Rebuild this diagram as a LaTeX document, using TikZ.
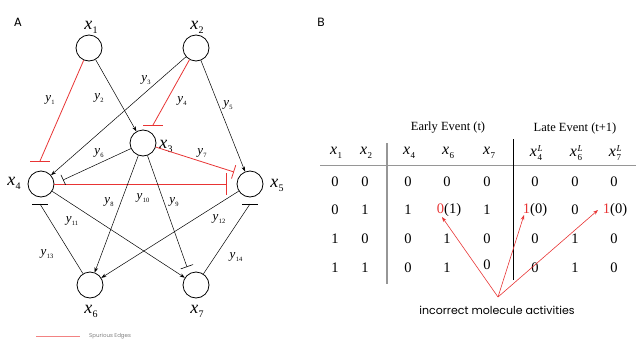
\documentclass[tikz,border=0pt]{standalone}
\usepackage{fontspec}
\setmainfont{Liberation Serif}
\newfontfamily\itx{Liberation Serif Italic}
\newfontfamily\gothic{Poppins}
\usetikzlibrary{arrows.meta}
\definecolor{myred}{RGB}{232,52,52}
\definecolor{legred}{RGB}{242,130,130}
\definecolor{rulegray}{RGB}{150,150,150}
% letter with dropped subscript: #1 letter, #2 sub, #3 sub size, #4 drop
\newcommand\isub[4]{{\itx #1}\kern0.4pt\raisebox{-#4}{\fontsize{#3}{#3}\selectfont #2}}
% x with superscript L and subscript
\newcommand\isubL[1]{{\itx x}\kern0.6pt\rlap{\raisebox{5.5pt}{\fontsize{9}{9}\selectfont\itx L}}\raisebox{-3.5pt}{\fontsize{9}{9}\selectfont #1}}
\begin{document}
\begin{tikzpicture}[x=1pt,y=-1pt,
  mol/.style={circle,draw,line width=0.8pt,minimum size=26pt,inner sep=0pt},
  lbl/.style={font=\fontsize{18}{18}\selectfont,inner sep=0pt},
  ylbl/.style={font=\fontsize{13}{13}\selectfont,inner sep=0pt},
  act/.style={draw=black,line width=0.5pt,-{Stealth[length=5pt,width=3.6pt]}},
  inh/.style={draw=black,line width=0.5pt},
  rinh/.style={draw=myred,line width=0.8pt},
  num/.style={font=\fontsize{14.5}{14.5}\selectfont,inner sep=0pt},
  hdr/.style={font=\fontsize{16}{16}\selectfont,inner sep=0pt},
  ttl/.style={font=\fontsize{12.5}{12.5}\selectfont,inner sep=0pt},
  rarr/.style={draw=myred,line width=0.6pt,-{Stealth[length=5pt,width=3.6pt]}},
  sans/.style={font=\gothic\fontsize{#1}{#1}\selectfont,inner sep=0pt}]
\useasboundingbox (0,0) rectangle (636,340);

% ---------- Panel A ----------
\node[sans=12] (labA) at (18,22) {A};
\node[mol] (x1) at (89,48) {};
\node[mol] (x2) at (196,48) {};
\node[mol] (x3) at (143,143) {};
\node[mol] (x4) at (41,184) {};
\node[mol] (x5) at (250,184) {};
\node[mol] (x6) at (90,285) {};
\node[mol] (x7) at (196,285) {};
\node[lbl] (lx1) at (91,27) {\isub{x}{1}{10}{4pt}};
\node[lbl] (lx2) at (197,27) {\isub{x}{2}{10}{4pt}};
\node[lbl] (lx3) at (166,146) {\isub{x}{3}{10}{4pt}};
\node[lbl] (lx4) at (14,183) {\isub{x}{4}{10}{4pt}};
\node[lbl] (lx5) at (277,185) {\isub{x}{5}{10}{4pt}};
\node[lbl] (lx6) at (91,311) {\isub{x}{6}{10}{4pt}};
\node[lbl] (lx7) at (197,311) {\isub{x}{7}{10}{4pt}};

\coordinate (b1) at (40,161);
\coordinate (b4) at (153,125);
\coordinate (b6) at (63,180);
\coordinate (b7) at (234,172);
\coordinate (b45) at (227,184);
\coordinate (b9) at (187,267);
\coordinate (b13) at (40,204);
\coordinate (b14) at (250,204);

% red (spurious) edges
\draw[rinh] (x1) -- (b1);
\draw[rinh] (b1) ++(-10,0) -- ++(20,0);
\draw[rinh] (x2) -- (b4);
\draw[rinh] (b4) ++(-10,0) -- ++(20,0);
\draw[rinh,-{Bar[width=14pt,line width=0.8pt]}] (x3) -- (b7);
\draw[rinh,-{Bar[width=22pt,line width=0.8pt]}] (x4) -- (b45);

% black edges
\draw[act] (x1) -- (x3);
\draw[act] (x2) -- (x4);
\draw[act] (x2) -- (x5);
\draw[inh,-{Bar[width=11pt,line width=0.6pt]}] (x3) -- (b6);
\draw[act] (x3) -- (x6);
\draw[inh,-{Bar[width=13pt,line width=0.6pt]}] (x3) -- (b9);
\draw[act] (x4) -- (x7);
\draw[act] (x5) -- (x6);
\draw[inh] (x6) -- (b13);
\draw[inh] (b13) ++(-8,0) -- ++(16,0);
\draw[inh] (x7) -- (b14);
\draw[inh] (b14) ++(-8,0) -- ++(16,0);

\node[ylbl] (y1) at (50,100) {\isub{y}{1}{6.5}{3pt}};
\node[ylbl] (y2) at (99,98) {\isub{y}{2}{6.5}{3pt}};
\node[ylbl] (y3) at (146,80) {\isub{y}{3}{6.5}{3pt}};
\node[ylbl] (y4) at (182,101) {\isub{y}{4}{6.5}{3pt}};
\node[ylbl] (y5) at (228,105) {\isub{y}{5}{6.5}{3pt}};
\node[ylbl] (y6) at (99,153) {\isub{y}{6}{6.5}{3pt}};
\node[ylbl] (y7) at (202,153) {\isub{y}{7}{6.5}{3pt}};
\node[ylbl] (y8) at (109,202) {\isub{y}{8}{6.5}{3pt}};
\node[ylbl] (y10) at (143,198) {\isub{y}{10}{6.5}{3pt}};
\node[ylbl] (y9) at (174,202) {\isub{y}{9}{6.5}{3pt}};
\node[ylbl] (y11) at (72,221) {\isub{y}{11}{6.5}{3pt}};
\node[ylbl] (y12) at (219,219) {\isub{y}{12}{6.5}{3pt}};
\node[ylbl] (y13) at (47,254) {\isub{y}{13}{6.5}{3pt}};
\node[ylbl] (y14) at (236,257) {\isub{y}{14}{6.5}{3pt}};

% legend
\coordinate (lg1) at (36,336);
\coordinate (lg2) at (80,336);
\draw[legred,line width=0.9pt] (lg1) -- (lg2);
\node[sans=5.5,text=gray,anchor=west] (lgt) at (89,336) {Spurious Edges};

% ---------- Panel B ----------
\node[sans=12] (labB) at (321,22) {B};
\node[ttl] (early) at (448,128) {Early Event (t)};
\node[ttl] (late) at (575,128) {Late Event (t+1)};

\node[hdr] (h1) at (336,153) {\isub{x}{1}{9}{3.5pt}};
\node[hdr] (h2) at (366,153) {\isub{x}{2}{9}{3.5pt}};
\node[hdr] (h4) at (409,153) {\isub{x}{4}{9}{3.5pt}};
\node[hdr] (h6) at (448,153) {\isub{x}{6}{9}{3.5pt}};
\node[hdr] (h7) at (489,153) {\isub{x}{7}{9}{3.5pt}};
\node[hdr] (h4L) at (536,153) {\isubL{4}};
\node[hdr] (h6L) at (576,153) {\isubL{6}};
\node[hdr] (h7L) at (615,153) {\isubL{7}};

\coordinate (hr1) at (320,165);
\coordinate (hr2) at (636,165);
\draw[rulegray,line width=0.8pt] (hr1) -- (hr2);
\coordinate (vg1) at (387,143);
\coordinate (vg2) at (387,284);
\draw[rulegray,line width=1.2pt] (vg1) -- (vg2);
\coordinate (vb1) at (513,139);
\coordinate (vb2) at (513,280);
\draw[black,line width=0.7pt] (vb1) -- (vb2);

\foreach \xx/\v [count=\i] in {335/0,365/0,408/0,447/0,487/0,535/0,575/0,614/0}
  \node[num] (ra\i) at (\xx,182) {\v};
\foreach \xx/\v [count=\i] in {335/0,365/1,408/1,449/{\textcolor{myred}{0}(1)},487/1,535/{\textcolor{myred}{1}(0)},575/0,615/{\textcolor{myred}{1}(0)}}
  \node[num] (rb\i) at (\xx,210) {\v};
\foreach \xx/\v [count=\i] in {335/1,365/0,408/0,447/1,487/0,535/0,575/1,614/0}
  \node[num] (rc\i) at (\xx,239) {\v};
\foreach \xx/\v [count=\i] in {335/1,365/1,408/0,447/1,535/0,575/1,614/0}
  \node[num] (rd\i) at (\xx,268) {\v};
\node[num] (rd5x) at (487,265) {0};

\node[sans=11] (inc) at (497,310) {incorrect molecule activities};
\coordinate (src) at (498,297);
\coordinate (t1) at (442,217);
\coordinate (t2) at (524,215);
\coordinate (t3) at (598,210);
\draw[rarr] (src) -- (t1);
\draw[rarr] (src) -- (t2);
\draw[rarr] (src) -- (t3);
\end{tikzpicture}
\end{document}
